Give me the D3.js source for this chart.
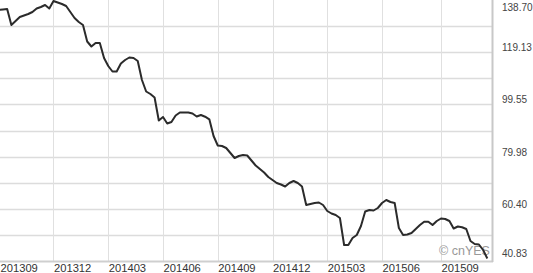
<!DOCTYPE html>
<html>
<head>
<meta charset="utf-8">
<script src="https://cdn.jsdelivr.net/npm/d3@7/dist/d3.min.js"></script>
<style>
  html, body { margin: 0; padding: 0; background: #fff; }
  svg { display: block; }
</style>
</head>
<body>
<svg id="chart" width="533" height="273"></svg>
<script>
// Weekly closing values (index = week number)
const values = [
  134.95,135.14,135.33,129.33,130.83,132.33,132.89,133.45,134.20,135.51,
  136.08,136.83,135.51,138.33,137.76,137.20,136.45,134.20,131.95,130.45,
  129.33,123.14,121.26,122.58,122.58,116.95,113.95,111.89,111.89,114.89,
  116.20,117.14,116.95,115.83,108.70,104.39,103.45,102.14,93.52,94.83,
  92.39,92.95,95.39,96.51,96.51,96.51,96.14,95.01,95.58,94.94,
  93.97,87.70,84.14,83.95,83.20,81.33,79.45,80.20,80.58,80.39,
  78.51,76.64,75.33,74.02,72.33,71.20,70.08,69.52,68.77,70.08,
  70.83,70.08,68.77,61.83,62.21,62.58,62.77,61.83,59.58,58.64,
  58.08,56.95,46.83,46.83,49.45,50.58,53.95,59.39,59.95,59.77,
  60.70,62.58,63.70,62.95,62.58,53.21,50.58,50.77,51.33,52.83,
  54.33,55.57,55.57,54.33,55.83,56.77,56.58,55.83,53.02,53.77,
  53.47,52.83,48.33,47.20,47.02,44.95,41.77
];
const tickIndex  = [0, 13, 26, 39, 52, 65, 78, 91, 105];
const tickLabels = ["201309","201312","201403","201406","201409","201412","201503","201506","201509"];
const yTicks = [138.70, 119.13, 99.55, 79.98, 60.40, 40.83];

const svg = d3.select("#chart");
const plotL = 0, plotR = 492, plotT = 0, plotB = 261;

const x = d3.scaleLinear().domain([0, 116]).range([-1.26, -1.26 + 4.212 * 116]);
const y = d3.scaleLinear().domain([40.83, 138.70]).range([plotB, plotT]);

// horizontal gridlines (half-interval)
const gridVals = d3.range(0, 11).map(k => 40.83 + k * (138.70 - 40.83) / 10);
svg.append("g").selectAll("line").data(gridVals.slice(1, 10)).join("line")
  .attr("x1", plotL).attr("x2", plotR)
  .attr("y1", d => Math.round(y(d)) + 0.5).attr("y2", d => Math.round(y(d)) + 0.5)
  .attr("stroke", "#dcdcdc").attr("stroke-width", 1.6);

// vertical gridlines
svg.append("g").selectAll("line").data(tickIndex.slice(1)).join("line")
  .attr("x1", d => Math.round(x(d)) + 0.5).attr("x2", d => Math.round(x(d)) + 0.5)
  .attr("y1", plotT).attr("y2", plotB)
  .attr("stroke", "#e0e0e0").attr("stroke-width", 1);

// bottom axis line and right border
svg.append("line").attr("x1", plotL).attr("x2", plotR + 1)
  .attr("y1", plotB + 0.5).attr("y2", plotB + 0.5)
  .attr("stroke", "#cfcfcf").attr("stroke-width", 2);
svg.append("line").attr("x1", plotR + 0.5).attr("x2", plotR + 0.5)
  .attr("y1", plotT).attr("y2", plotB + 1)
  .attr("stroke", "#c8c8c8").attr("stroke-width", 2);

// x labels
svg.append("g").selectAll("text").data(tickIndex).join("text")
  .attr("x", (d, i) => Math.max(0, x(d)) + 0.5)
  .attr("y", 272)
  .attr("font-family", "Liberation Sans, Arial, sans-serif")
  .attr("font-size", 11.2)
  .attr("fill", "#333")
  .text((d, i) => tickLabels[i]);

// y labels (right)
svg.append("g").selectAll("text").data(yTicks).join("text")
  .attr("x", 502)
  .attr("y", d => Math.min(257, Math.max(11, y(d) - 1)))
  .attr("font-family", "Liberation Sans, Arial, sans-serif")
  .attr("font-size", 10)
  .attr("fill", "#444")
  .text(d => d.toFixed(2));

// watermark
svg.append("text").attr("x", 439).attr("y", 255)
  .attr("font-family", "Liberation Sans, Arial, sans-serif")
  .attr("font-size", 12.5).attr("fill", "#999")
  .text("© cnYES");

// price line
const line = d3.line().x((d, i) => x(i)).y(d => y(d));
svg.append("path").datum(values)
  .attr("d", line)
  .attr("fill", "none")
  .attr("stroke", "#2b2b2b")
  .attr("stroke-width", 2)
  .attr("stroke-linejoin", "round");
</script>
</body>
</html>
